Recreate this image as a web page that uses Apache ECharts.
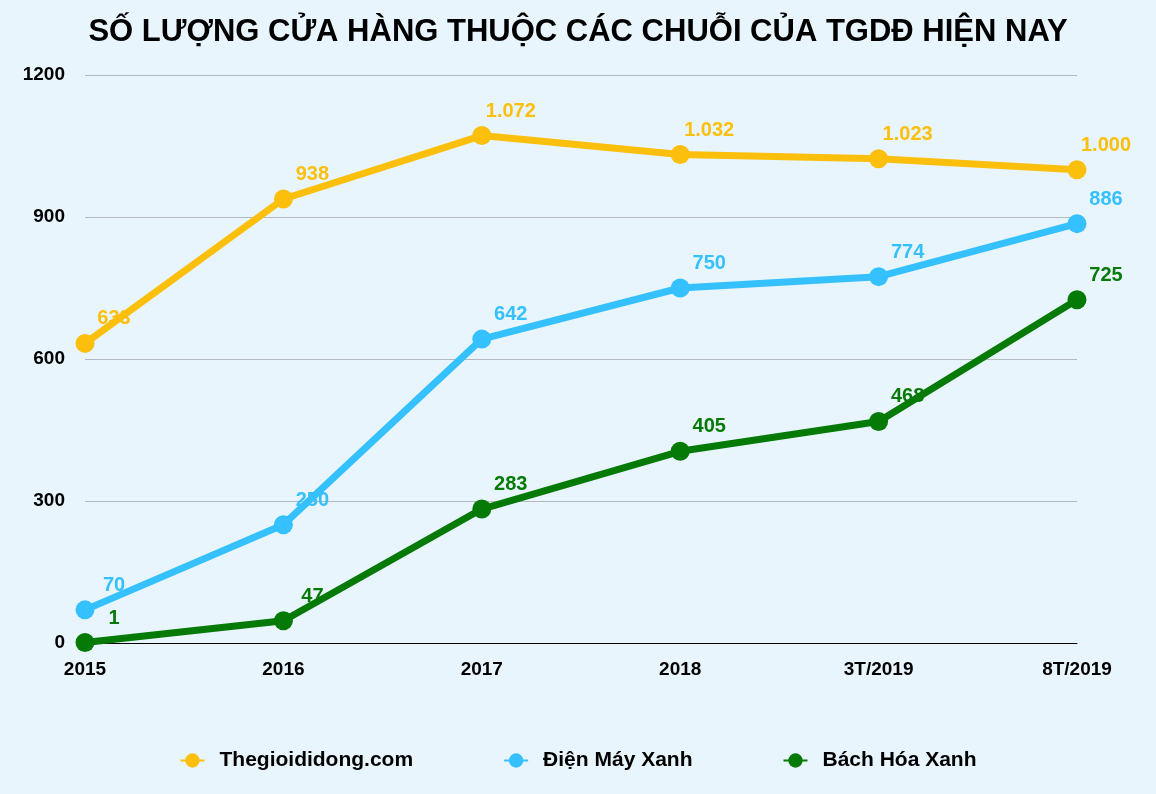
<!DOCTYPE html>
<html>
<head>
<meta charset="utf-8">
<script src="https://cdn.jsdelivr.net/npm/echarts@6/dist/echarts.min.js"></script>
<style>
  html, body { margin: 0; padding: 0; background: #e8f5fd; }
  #chart { width: 1156px; height: 794px; }
</style>
</head>
<body>
<div id="chart"></div>
<script>
const categories = ['2015', '2016', '2017', '2018', '3T/2019', '8T/2019'];
const tgddValues = [633, 938, 1072, 1032, 1023, 1000];
const dmxValues = [70, 250, 642, 750, 774, 886];
const bhxValues = [1, 47, 283, 405, 468, 725];
const seriesNames = ['Thegioididong.com', 'Điện Máy Xanh', 'Bách Hóa Xanh'];
const seriesColors = ['#fcbf0b', '#35c0ff', '#067a06'];

const fmt = (v) => String(v).replace(/\B(?=(\d{3})+(?!\d))/g, '.');

const makeSeries = (name, data, color) => ({
    name: name,
    type: 'line',
    data: data,
    symbol: 'circle',
    symbolSize: 19,
    lineStyle: { width: 7, color: color },
    itemStyle: { color: color },
    label: {
        show: true,
        position: 'top',
        offset: [29, 0],
        color: color,
        fontSize: 20,
        fontWeight: 'bold',
        fontFamily: 'Liberation Sans',
        formatter: (p) => fmt(p.value)
    },
    emphasis: { disabled: true },
    animation: false
});

const chart = echarts.init(document.querySelector('#chart'));
chart.setOption({
    backgroundColor: '#e8f5fd',
    title: {
        text: 'SỐ LƯỢNG CỬA HÀNG THUỘC CÁC CHUỖI CỦA TGDĐ HIỆN NAY',
        left: 'center',
        top: 12,
        textStyle: {
            fontSize: 31,
            fontWeight: 'bold',
            color: '#000',
            fontFamily: 'Liberation Sans'
        }
    },
    legend: {
        bottom: 18,
        left: 'center',
        itemGap: 90,
        itemWidth: 24,
        itemHeight: 18,
        textStyle: {
            fontSize: 21,
            fontWeight: 'bold',
            color: '#000',
            fontFamily: 'Liberation Sans',
            padding: [0, 0, 0, 10]
        },
        data: seriesNames
    },
    grid: {
        left: 85,
        right: 79,
        top: 75,
        bottom: 151,
        containLabel: false
    },
    xAxis: {
        type: 'category',
        data: categories,
        boundaryGap: false,
        axisLine: { lineStyle: { color: '#000', width: 1 } },
        axisTick: { show: false },
        axisLabel: {
            color: '#000',
            fontSize: 19,
            fontWeight: 'bold',
            fontFamily: 'Liberation Sans',
            margin: 17
        }
    },
    yAxis: {
        type: 'value',
        min: 0,
        max: 1200,
        interval: 300,
        axisLine: { show: false },
        axisTick: { show: false },
        splitLine: { lineStyle: { color: '#b4b9bd', width: 1 } },
        axisLabel: {
            color: '#000',
            fontSize: 19,
            fontWeight: 'bold',
            fontFamily: 'Liberation Sans',
            margin: 20,
            formatter: (v) => String(v)
        }
    },
    series: [
        makeSeries(seriesNames[0], tgddValues, seriesColors[0]),
        makeSeries(seriesNames[1], dmxValues, seriesColors[1]),
        makeSeries(seriesNames[2], bhxValues, seriesColors[2])
    ]
});
</script>
</body>
</html>
